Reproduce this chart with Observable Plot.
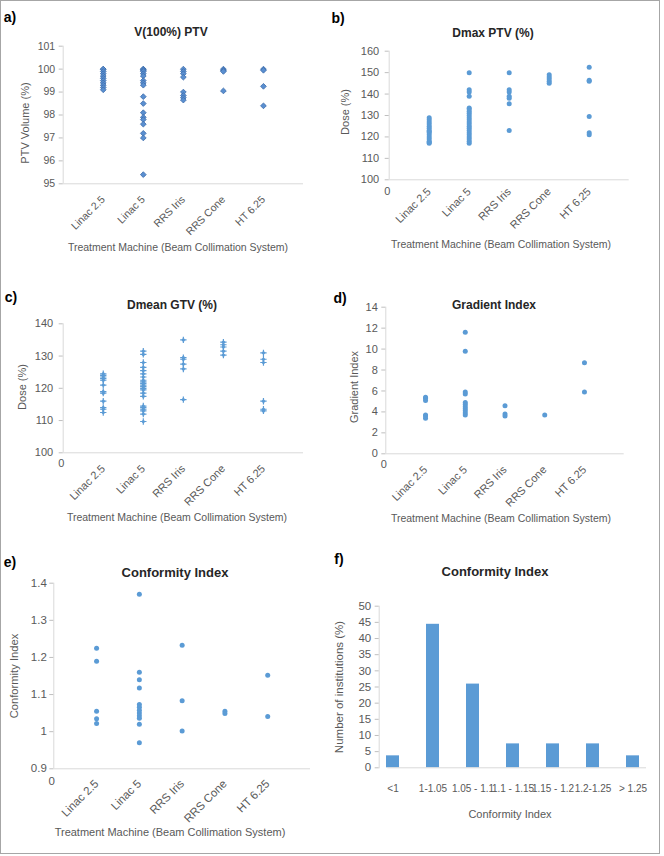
<!DOCTYPE html>
<html><head><meta charset="utf-8">
<script src="https://cdn.jsdelivr.net/npm/d3@7"></script>
<script src="https://cdn.jsdelivr.net/npm/@observablehq/plot@0.6"></script>
<style>
html,body{margin:0;padding:0;background:#fff;}
#page{position:relative;width:664px;height:856px;overflow:hidden;font-family:"Liberation Sans",Arial,sans-serif;background:#fff;}
.frame{position:absolute;left:0;top:0;width:658px;height:852px;border:1px solid #a6a6a6;}
.panel{position:absolute;}
.panel svg{display:block;}
.t{position:absolute;white-space:nowrap;transform:translate(-50%,-50%);line-height:1;}
.title{font-weight:bold;color:#262626;}
.lab{font-weight:bold;color:#000;font-size:14px;}
.ax{color:#595959;font-size:10.5px;}
.ay{color:#595959;font-size:11px;transform:translate(-50%,-50%) rotate(-90deg);}
</style></head>
<body><div id="page"><div class="frame"></div></div>
<script>
// ---------- data ----------
const machines = ["Linac 2.5", "Linac 5", "RRS Iris", "RRS Cone", "HT 6.25"];

const v100Ptv = [
  [100, 100, 99.9, 99.8, 99.7, 99.6, 99.5, 99.4, 99.3, 99.2, 99.1],
  [100, 100, 99.95, 99.9, 99.8, 99.7, 99.5, 99.4, 99.3, 98.8, 98.5, 98.1, 97.9, 97.8, 97.6, 97.2, 97.0, 95.4],
  [100, 99.9, 99.8, 99.65, 99.0, 98.85, 98.75, 98.65],
  [100, 99.95, 99.9, 99.05],
  [100, 99.95, 99.25, 98.4]
];
const dmaxPtv = [
  [117, 117.5, 118, 119, 120, 121, 122, 122.5, 123, 124, 125, 126, 127, 128, 129],
  [150, 142, 141, 139, 133.5, 133, 132, 131, 130, 129, 128, 127, 126, 125, 124, 123, 122, 121, 120, 119, 118, 117],
  [150, 142, 141, 139, 138, 135.5, 123],
  [149, 148, 147, 146, 145],
  [152.5, 146.5, 146, 129.5, 122, 121]
];
const dmeanGtv = [
  [124.5, 124, 123.5, 123, 122.5, 121, 119, 118.5, 116, 114, 113.5, 112.5],
  [131.5, 130.5, 128, 126.5, 125.5, 124.5, 123.5, 122.5, 122, 121.5, 121, 120.5, 120, 119.5, 118.5, 117.5, 114.5, 114, 113.5, 113, 112, 109.7],
  [135, 129.5, 129, 127.5, 126, 116.5],
  [134.3, 133.5, 132.8, 131.5, 130.3],
  [131, 129, 128, 116, 113.5, 113]
];
const gradientIdx = [
  [5.4, 5.3, 5.1, 3.7, 3.6, 3.4],
  [11.6, 9.8, 5.9, 5.7, 4.9, 4.7, 4.5, 4.3, 4.1, 3.9, 3.7],
  [4.6, 3.8, 3.6],
  [3.7],
  [8.7, 5.9]
];
const conformityIdx = [
  [1.225, 1.19, 1.055, 1.035, 1.022],
  [1.37, 1.16, 1.14, 1.118, 1.073, 1.066, 1.058, 1.05, 1.043, 1.036, 1.02, 0.97],
  [1.233, 1.083, 1.002],
  [1.055, 1.049],
  [1.152, 1.041]
];
const ciBins = ["<1", "1-1.05", "1.05 - 1.1", "1.1 - 1.15", "1.15 - 1.2", "1.2-1.25", "> 1.25"];
const ciPercent = [3.7, 44.4, 25.9, 7.4, 7.4, 7.4, 3.7];

const ticksA = [95, 96, 97, 98, 99, 100, 101];
const ticksB = [100, 110, 120, 130, 140, 150, 160];
const ticksC = [100, 110, 120, 130, 140];
const ticksD = [0, 2, 4, 6, 8, 10, 12, 14];
const ticksE = [0.9, 1, 1.1, 1.2, 1.3, 1.4];
const ticksF = [0, 5, 10, 15, 20, 25, 30, 35, 40, 45, 50];
const zeroLabel = [0];

// ---------- helpers ----------
const page = document.getElementById("page");
const BLUE = "#5b9bd5";

function place(node, left, top) {
  const d = document.createElement("div");
  d.className = "panel";
  d.style.left = left + "px";
  d.style.top = top + "px";
  d.appendChild(node);
  page.appendChild(d);
}
function label(text, x, y, cls, size) {
  const d = document.createElement("div");
  d.className = "t " + cls;
  d.textContent = text;
  d.style.left = x + "px";
  d.style.top = y + "px";
  if (size) d.style.fontSize = size + "px";
  page.appendChild(d);
}

function scatter(cfg) {
  const rows = cfg.values.flatMap((vals, i) => vals.map(v => ({machine: machines[i], pos: i + 1, value: v})));
  const marks = [
    Plot.ruleX([0], {stroke: "#d9d9d9"}),
    Plot.ruleY([cfg.yDomain[0]], {stroke: "#d9d9d9"}),
    Plot.axisY({ticks: cfg.yTicks, tickSize: 4, tickPadding: cfg.yPad, stroke: "#bfbfbf", fill: "#595959", tickFormat: d => String(d), label: null}),
    Plot.axisX({ticks: machines.map((m, i) => i + 1), tickFormat: d => machines[d - 1], tickRotate: -45, tickSize: 0, tickPadding: cfg.xPad, fill: "#595959", label: null})
  ];
  if (cfg.zero) marks.push(Plot.text(zeroLabel, {x: d => d, y: () => cfg.yDomain[0], text: d => String(d), dy: cfg.zeroDy, dx: -2, fill: "#595959"}));
  marks.push(...cfg.marker(rows));
  return Plot.plot({
    width: cfg.width, height: cfg.height,
    marginLeft: cfg.ml, marginRight: cfg.mr, marginTop: cfg.mt, marginBottom: cfg.mb,
    x: {domain: [0, 6]},
    y: {domain: cfg.yDomain},
    style: {fontFamily: "Liberation Sans, Arial, sans-serif", fontSize: (cfg.fs || 11) + "px", color: "#595959", background: "transparent", overflow: "visible"},
    marks
  });
}

const dots = rows => [Plot.dot(rows, {x: "pos", y: "value", r: 2.5, fill: BLUE})];
const diamonds = rows => [Plot.dot(rows, {x: "pos", y: "value", symbol: "diamond2", r: 2.6, fill: "#5a8fd0", stroke: "#3d6dac", strokeWidth: 0.8})];
const stars = rows => [
  Plot.dot(rows, {x: "pos", y: "value", symbol: "plus", r: 2.2, stroke: BLUE, strokeWidth: 1.2}),
  Plot.dot(rows, {x: "pos", y: "value", r: 1.6, fill: BLUE})
];

// a)
place(scatter({values: v100Ptv, yDomain: [95, 101], yTicks: ticksA, width: 332, height: 285,
  ml: 62.7, mr: 29, mt: 45.7, mb: 101.7, xPad: 14, yPad: 4, zero: false, marker: diamonds, fs: 10.5}), 0, 0);
// b)
place(scatter({values: dmaxPtv, yDomain: [100, 160], yTicks: ticksB, width: 332, height: 285,
  ml: 56.7, mr: 35.3, mt: 50.7, mb: 105.7, xPad: 10, yPad: 6, zero: true, zeroDy: 12, marker: dots}), 332, 0);
// c)
place(scatter({values: dmeanGtv, yDomain: [100, 140], yTicks: ticksC, width: 332, height: 285,
  ml: 62.7, mr: 29, mt: 38.3, mb: 117.7, xPad: 14, yPad: 6, zero: true, zeroDy: 11, marker: stars}), 0, 285);
// d)
place(scatter({values: gradientIdx, yDomain: [0, 14], yTicks: ticksD, width: 332, height: 285,
  ml: 53.3, mr: 40.3, mt: 21.7, mb: 116.7, xPad: 14, yPad: 4, zero: true, zeroDy: 11, marker: dots}), 332, 285);
// e)
place(scatter({values: conformityIdx, yDomain: [0.9, 1.4], yTicks: ticksE, width: 332, height: 286,
  ml: 53.3, mr: 22, mt: 12.7, mb: 87.7, xPad: 13, yPad: 3, zero: true, zeroDy: 12.5, marker: dots, fs: 11.5}), 0, 570);
// f)
const ciRows = ciBins.map((b, i) => ({bin: b, pct: ciPercent[i]}));
place(Plot.plot({
  width: 332, height: 286,
  marginLeft: 46.7, marginRight: 14, marginTop: 35.7, marginBottom: 88.7,
  x: {domain: ciBins, paddingInner: 0.68, paddingOuter: 0.34, insetLeft: -8.7, insetRight: -4},
  y: {domain: [0, 50]},
  style: {fontFamily: "Liberation Sans, Arial, sans-serif", fontSize: "11.5px", color: "#595959", background: "transparent", overflow: "visible"},
  marks: [
    Plot.frame({anchor: "left", stroke: "#d9d9d9"}),
    Plot.barY(ciRows, {x: "bin", y: "pct", fill: BLUE}),
    Plot.ruleY([0], {stroke: "#d9d9d9", insetLeft: 8.7, insetRight: 4}),
    Plot.axisY({ticks: ticksF, tickSize: 4, tickPadding: 4, stroke: "#bfbfbf", fill: "#595959", label: null}),
    Plot.axisX({tickSize: 0, tickPadding: 17, fill: "#595959", fontSize: 10, label: null})
  ]
}), 332, 570);

// ---------- text ----------
const xTitle = "Treatment Machine (Beam Collimation System)";
label("a)", 10, 17, "lab");
label("b)", 338, 18, "lab");
label("c)", 11, 297, "lab");
label("d)", 340, 298, "lab");
label("e)", 10, 562, "lab");
label("f)", 339, 559, "lab");

label("V(100%) PTV", 171, 32, "title", 12);
label("Dmax PTV (%)", 493, 33, "title", 12);
label("Dmean GTV (%)", 172, 305, "title", 12);
label("Gradient Index", 494, 305, "title", 12);
label("Conformity Index", 175, 572, "title", 13);
label("Conformity Index", 495, 571, "title", 13);

label(xTitle, 178, 247, "ax");
label(xTitle, 501, 244, "ax");
label(xTitle, 177, 517, "ax");
label(xTitle, 501, 518, "ax");
label(xTitle, 170, 832, "ax", 11);
label("Conformity Index", 510, 814, "ax", 11);

label("PTV Volume (%)", 25, 123, "ay");
label("Dose (%)", 345, 112, "ay");
label("Dose (%)", 22, 387, "ay");
label("Gradient Index", 354, 387, "ay");
label("Conformity Index", 15, 676, "ay", 11.2);
label("Number of institutions (%)", 340, 687, "ay", 11.5);
</script>
</body></html>
